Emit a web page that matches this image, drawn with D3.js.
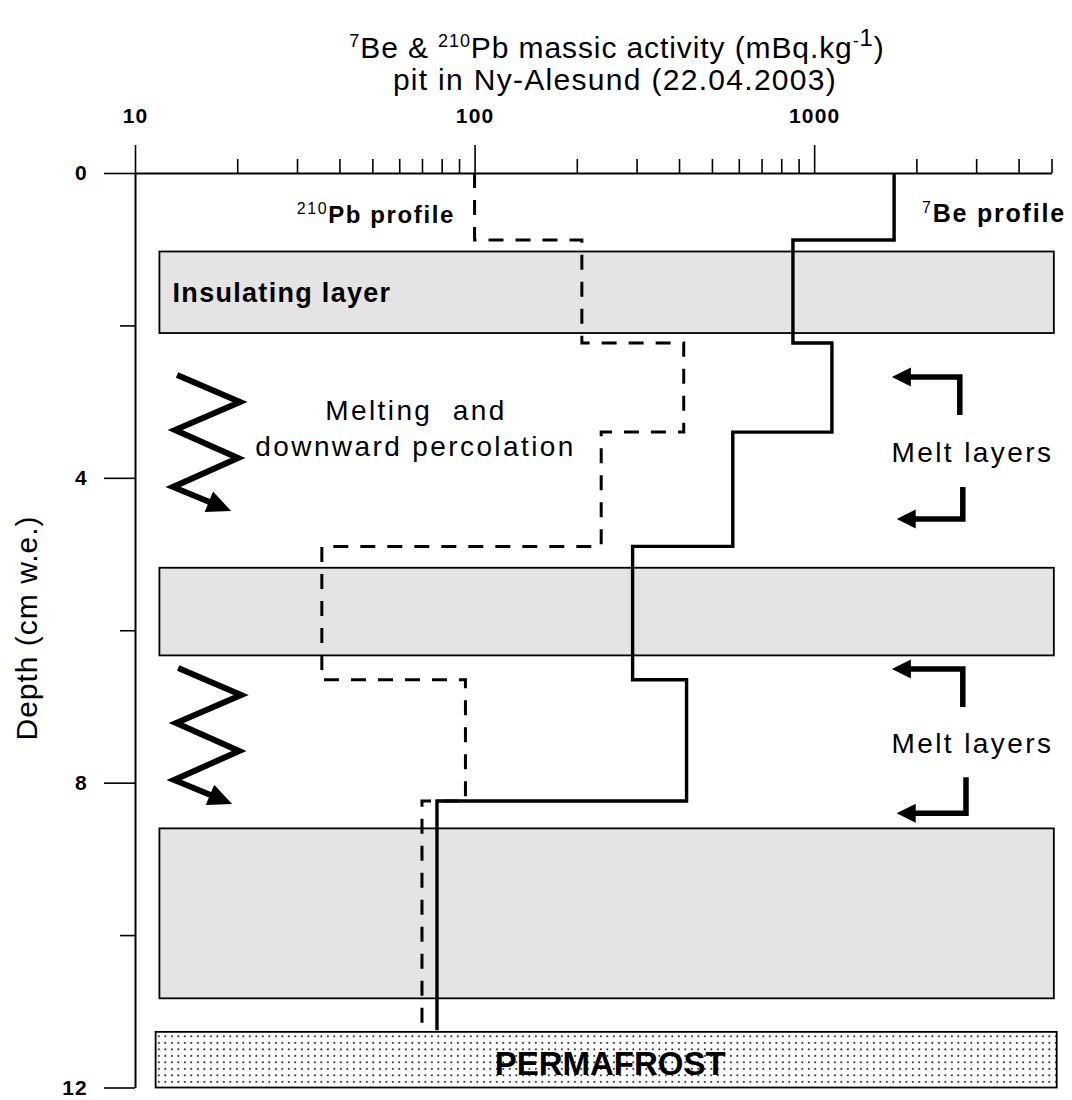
<!DOCTYPE html>
<html>
<head>
<meta charset="utf-8">
<script src="https://cdn.jsdelivr.net/npm/d3@7/dist/d3.min.js"></script>
<style>
  body { margin: 0; background: #fff; }
  svg text { font-family: "Liberation Sans", Arial, Helvetica, sans-serif; fill: #000; }
</style>
</head>
<body>
<div id="chart"></div>
<script>
// snow pit layers: depth boundaries (cm w.e.) and step values (mBq/kg)
const depthEdges = [0, 0.88, 2.23, 3.40, 4.90, 6.65, 8.24, 11.25];
const beValues = [1720, 866, 1128, 576, 292, 421, 77.5];
const pbValues = [100, 207, 413, 236, 35.5, 94, 70];

// ice / insulating layers (depth top, bottom) and permafrost
const iceLayers = [[1.03, 2.10], [5.18, 6.33], [8.60, 10.83]];
const permafrost = [11.27, 12];
const layerSpan = [11.8, 5080];
const permSpan = [11.5, 5180];

const xMajor = [10, 100, 1000];
const xMinor = [20, 30, 40, 50, 60, 70, 80, 90, 200, 300, 400, 500, 600, 700, 800, 900, 2000, 3000, 4000, 5000];
const yMajor = [0, 4, 8, 12];
const yMinor = [2, 6, 10];

const W = 1072, H = 1100;
const svg = d3.select("#chart").append("svg")
  .attr("width", W).attr("height", H)
  .style("background", "#fff");

const x = d3.scaleLog().domain([10, 5000]).range([135, 1051.5]);
const y = d3.scaleLinear().domain([0, 12]).range([173, 1087.5]);

const defs = svg.append("defs");
const pat = defs.append("pattern").attr("id", "dots")
  .attr("patternUnits", "userSpaceOnUse").attr("width", 6.5).attr("height", 6.5);
pat.append("rect").attr("width", 6.5).attr("height", 6.5).attr("fill", "#fff");
pat.append("rect").attr("x", 2).attr("y", 2).attr("width", 1.7).attr("height", 1.7).attr("fill", "#111");

// grey layers
svg.append("g").selectAll("rect")
  .data(iceLayers)
  .join("rect")
  .attr("x", x(layerSpan[0]))
  .attr("width", x(layerSpan[1]) - x(layerSpan[0]))
  .attr("y", d => y(d[0]))
  .attr("height", d => y(d[1]) - y(d[0]))
  .attr("fill", "#e4e4e4")
  .attr("stroke", "#000")
  .attr("stroke-width", 1.8);

// profiles (step lines)
const stepPts = vals => vals.flatMap((v, i) => [[v, depthEdges[i]], [v, depthEdges[i + 1]]]);
const line = d3.line().x(d => x(d[0])).y(d => y(d[1]));

svg.append("path")
  .attr("d", line(stepPts(pbValues)))
  .attr("fill", "none").attr("stroke", "#000")
  .attr("stroke-width", 3).attr("stroke-dasharray", "15,12");

svg.append("path")
  .attr("d", line(stepPts(beValues)))
  .attr("fill", "none").attr("stroke", "#000")
  .attr("stroke-width", 3.4).attr("stroke-linejoin", "miter");

// permafrost
svg.append("rect")
  .attr("x", x(permSpan[0]))
  .attr("width", x(permSpan[1]) - x(permSpan[0]))
  .attr("y", y(permafrost[0]))
  .attr("height", y(permafrost[1]) - y(permafrost[0]))
  .attr("fill", "url(#dots)")
  .attr("stroke", "#000").attr("stroke-width", 1.8);

svg.append("text")
  .attr("x", (x(permSpan[0]) + x(permSpan[1])) / 2 + 4)
  .attr("y", y(11.836))
  .attr("text-anchor", "middle")
  .attr("font-size", 33).attr("font-weight", "bold")
  .text("PERMAFROST");

// axes
const gx = svg.append("g").attr("transform", `translate(0,${y(0)})`)
  .call(d3.axisTop(x).tickValues(xMajor).tickFormat(d3.format("d"))
    .tickSize(28).tickSizeOuter(0).tickPadding(22));
const gxm = svg.append("g").attr("transform", `translate(0,${y(0)})`)
  .call(d3.axisTop(x).tickValues(xMinor).tickFormat("").tickSize(14).tickSizeOuter(0));
gxm.select(".domain").remove();

const gy = svg.append("g").attr("transform", `translate(${x(10)},0)`)
  .call(d3.axisLeft(y).tickValues(yMajor).tickFormat(d3.format("d"))
    .tickSize(31).tickSizeOuter(0).tickPadding(16));
const gym = svg.append("g").attr("transform", `translate(${x(10)},0)`)
  .call(d3.axisLeft(y).tickValues(yMinor).tickFormat("").tickSize(15).tickSizeOuter(0));
gym.select(".domain").remove();

svg.selectAll(".domain").attr("stroke-width", 2);
svg.selectAll(".tick line").attr("stroke-width", 1.6);
svg.selectAll(".tick text")
  .attr("font-family", "'Liberation Sans', Arial, sans-serif")
  .attr("font-size", 21).attr("font-weight", "bold").attr("letter-spacing", 1.2).attr("fill", "#000");

// title
const title = svg.append("text")
  .attr("x", 617).attr("y", 58)
  .attr("text-anchor", "middle")
  .attr("font-size", 30).attr("letter-spacing", 0.9);
title.append("tspan").attr("font-size", 18).attr("dy", -11).text("7");
title.append("tspan").attr("dy", 11).text("Be & ");
title.append("tspan").attr("font-size", 18).attr("dy", -11).text("210");
title.append("tspan").attr("dy", 11).text("Pb massic activity (mBq.kg");
title.append("tspan").attr("font-size", 18).attr("dy", -11).text("-");
title.append("tspan").attr("font-size", 24).attr("dy", -1).text("1");
title.append("tspan").attr("dy", 12).text(")");

svg.append("text")
  .attr("x", 615).attr("y", 90)
  .attr("text-anchor", "middle")
  .attr("font-size", 30).attr("letter-spacing", 1.3)
  .text("pit in Ny-Alesund (22.04.2003)");

// y label
svg.append("text")
  .attr("transform", "translate(37,628) rotate(-90)")
  .attr("text-anchor", "middle")
  .attr("font-size", 30).attr("letter-spacing", 1)
  .text("Depth (cm w.e.)");

// profile labels
const pbLab = svg.append("text")
  .attr("x", x(87.5)).attr("y", y(0.656))
  .attr("text-anchor", "end")
  .attr("font-size", 24).attr("font-weight", "bold").attr("letter-spacing", 1.6);
pbLab.append("tspan").attr("font-size", 16).attr("font-weight", "normal").attr("dy", -9).text("210");
pbLab.append("tspan").attr("dy", 9).text("Pb profile");

const beLab = svg.append("text")
  .attr("x", x(2077)).attr("y", y(0.643))
  .attr("font-size", 25).attr("font-weight", "bold").attr("letter-spacing", 1.8);
beLab.append("tspan").attr("font-size", 16).attr("font-weight", "normal").attr("dy", -9).text("7");
beLab.append("tspan").attr("dy", 9).text("Be profile");

svg.append("text")
  .attr("x", x(12.9)).attr("y", y(1.693))
  .attr("font-size", 27).attr("font-weight", "bold").attr("letter-spacing", 1.3)
  .text("Insulating layer");

svg.append("text")
  .attr("x", x(67.2)).attr("y", y(3.24))
  .attr("text-anchor", "middle")
  .attr("font-size", 28).attr("letter-spacing", 2.4)
  .style("white-space", "pre")
  .text("Melting  and");
svg.append("text")
  .attr("x", x(67)).attr("y", y(3.72))
  .attr("text-anchor", "middle")
  .attr("font-size", 28).attr("letter-spacing", 2.4)
  .text("downward percolation");

[3.788, 7.607].forEach(d => {
  svg.append("text")
    .attr("x", x(1690)).attr("y", y(d))
    .attr("font-size", 28).attr("letter-spacing", 2.4)
    .text("Melt layers");
});

// arrows
const head = (tip, from, len, hw) => {
  const dx = tip[0] - from[0], dy = tip[1] - from[1];
  const L = Math.hypot(dx, dy), ux = dx / L, uy = dy / L;
  const bx = tip[0] - ux * len, by = tip[1] - uy * len;
  return [tip, [bx - uy * hw, by + ux * hw], [bx + uy * hw, by - ux * hw]];
};
const pxLine = d3.line();

function arrow(points, len, hw, sw) {
  const n = points.length;
  const tip = points[n - 1], from = points[n - 2];
  const dx = tip[0] - from[0], dy = tip[1] - from[1];
  const L = Math.hypot(dx, dy);
  const shaft = points.slice(0, n - 1).concat([[tip[0] - dx / L * len * 0.7, tip[1] - dy / L * len * 0.7]]);
  svg.append("path").attr("d", pxLine(shaft))
    .attr("fill", "none").attr("stroke", "#000")
    .attr("stroke-width", sw).attr("stroke-linejoin", "miter");
  svg.append("path").attr("d", pxLine(head(tip, from, len, hw)) + "Z")
    .attr("fill", "#000");
}

// zigzag percolation arrows (anchor in data space, shape in px)
const zigShape = [[0, 0], [63, 27], [-2, 55], [61, 83], [-4, 112], [54, 136]];
[[13.3, 2.65], [13.4, 6.495]].forEach(([v, d]) => {
  const ax = x(v), ay = y(d);
  arrow(zigShape.map(p => [ax + p[0], ay + p[1]]), 24, 11, 6);
});

// melt-layer bent arrows: corner value, depth from, depth to, tip value
const meltArrows = [
  [2685, 3.175, 2.677, 1694],
  [2740, 4.12, 4.54, 1750],
  [2740, 7.007, 6.508, 1694],
  [2800, 7.93, 8.40, 1750]
];
meltArrows.forEach(([cv, d0, d1, tv]) => {
  arrow([[x(cv), y(d0)], [x(cv), y(d1)], [x(tv), y(d1)]], 19, 9.5, 5.5);
});
</script>
</body>
</html>
